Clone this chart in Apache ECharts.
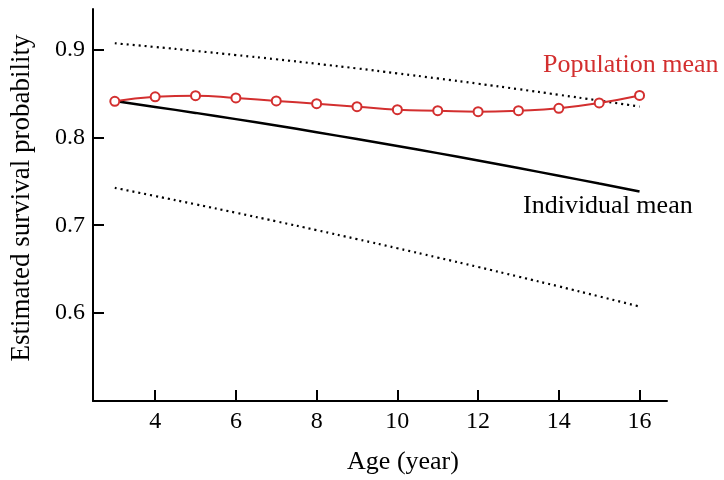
<!DOCTYPE html>
<html>
<head>
<meta charset="utf-8">
<script src="https://cdn.jsdelivr.net/npm/echarts@6/dist/echarts.min.js"></script>
<style>html,body{margin:0;padding:0;background:#fff}#chart{width:724px;height:480px}</style>
</head>
<body>
<div id="chart"></div>
<script>
var ages = [3, 4, 5, 6, 7, 8, 9, 10, 11, 12, 13, 14, 15, 16];
var populationMean = [0.8410, 0.8461, 0.8474, 0.8448, 0.8414, 0.8383, 0.8349, 0.8315, 0.8303, 0.8292, 0.8303, 0.8330, 0.8391, 0.8477];
var individualMean = [0.8413, 0.8346, 0.8278, 0.8207, 0.8134, 0.8058, 0.7980, 0.7901, 0.7820, 0.7736, 0.7650, 0.7563, 0.7474, 0.7383];
var upperBound = [0.9070, 0.9028, 0.8983, 0.8936, 0.8888, 0.8837, 0.8784, 0.8728, 0.8670, 0.8610, 0.8548, 0.8484, 0.8418, 0.8350];
var lowerBound = [0.7425, 0.7332, 0.7238, 0.7142, 0.7044, 0.6944, 0.6842, 0.6738, 0.6632, 0.6525, 0.6415, 0.6304, 0.6190, 0.6075];
var xTicks = [4, 6, 8, 10, 12, 14, 16];
var yTicks = [0.6, 0.7, 0.8, 0.9];
var xTitle = 'Age (year)';
var yTitle = 'Estimated survival probability';
var popLabel = 'Population mean';
var indLabel = 'Individual mean';

function pairs(xs, ys) { return xs.map(function (x, i) { return [x, ys[i]]; }); }

var FONT = "'Liberation Serif', 'Times New Roman', serif";
var RED = '#d32f2f';

var chart = echarts.init(document.getElementById('chart'), null, { renderer: 'canvas' });
chart.setOption({
  backgroundColor: '#ffffff',
  animation: false,
  grid: { left: 91, right: 57, top: 9, bottom: 78 },
  xAxis: {
    type: 'value', min: 2.46, max: 16.68,
    name: xTitle, nameLocation: 'middle', nameGap: 48,
    nameTextStyle: { fontFamily: FONT, fontSize: 26, color: '#000', padding: [0, 0, 0, 46] },
    axisLine: { show: true, lineStyle: { color: '#000', width: 2 } },
    axisTick: { show: true, inside: true, length: 11, customValues: xTicks, lineStyle: { color: '#000', width: 2 } },
    axisLabel: { customValues: xTicks, fontFamily: FONT, fontSize: 24, color: '#000', margin: 9 },
    splitLine: { show: false }
  },
  yAxis: {
    type: 'value', min: 0.5, max: 0.946,
    name: yTitle, nameLocation: 'middle', nameGap: 58,
    nameTextStyle: { fontFamily: FONT, fontSize: 27, color: '#000', padding: [0, 0, 0, 14] },
    axisLine: { show: true, lineStyle: { color: '#000', width: 2 } },
    axisTick: { show: true, inside: true, length: 11, customValues: yTicks, lineStyle: { color: '#000', width: 2 } },
    axisLabel: { customValues: yTicks, fontFamily: FONT, fontSize: 24, color: '#000', margin: 8,
      formatter: function (v) { return v.toFixed(1); } },
    splitLine: { show: false }
  },
  series: [
    { type: 'line', data: pairs(ages, upperBound), smooth: true, showSymbol: false,
      lineStyle: { color: '#000', width: 2.2, type: [2, 4], cap: 'butt' } },
    { type: 'line', data: pairs(ages, lowerBound), smooth: true, showSymbol: false,
      lineStyle: { color: '#000', width: 2.2, type: [2, 4], cap: 'butt' } },
    { type: 'line', data: pairs(ages, individualMean), smooth: true, showSymbol: false,
      lineStyle: { color: '#000', width: 2.5 } },
    { type: 'line', data: pairs(ages, populationMean), smooth: true, symbol: 'circle', symbolSize: 9,
      lineStyle: { color: RED, width: 2 },
      itemStyle: { color: '#fff', borderColor: RED, borderWidth: 2 } }
  ],
  graphic: [
    { type: 'text', left: 543, top: 52, style: { text: popLabel, fontFamily: FONT, fontSize: 26, fill: RED } },
    { type: 'text', left: 523, top: 193, style: { text: indLabel, fontFamily: FONT, fontSize: 26, fill: '#000' } }
  ]
});
</script>
</body>
</html>
